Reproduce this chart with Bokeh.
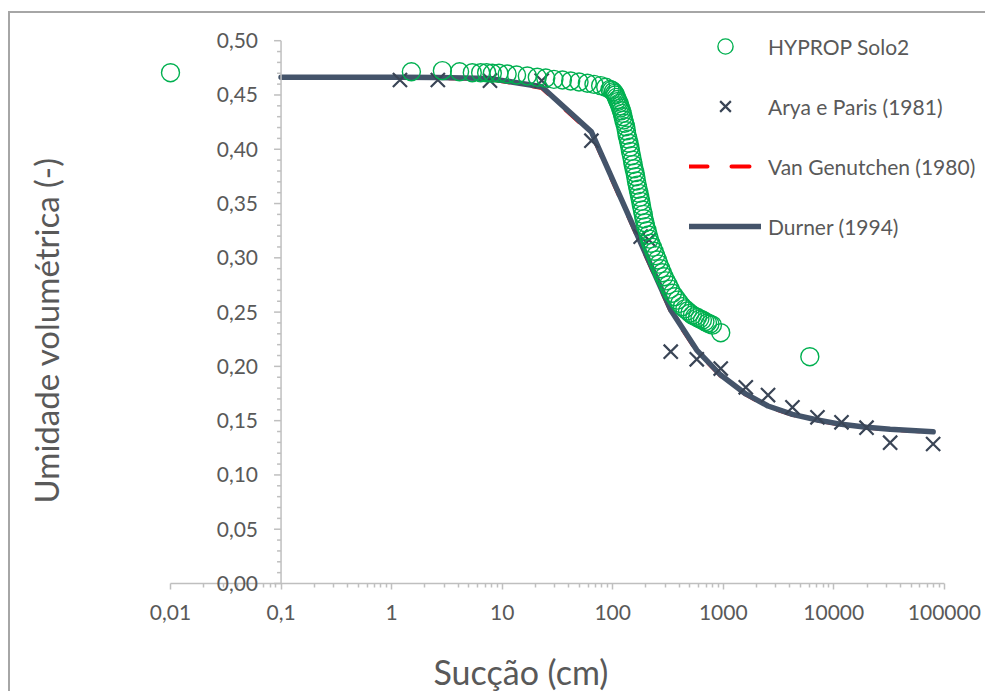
import math
from bokeh.plotting import figure
from bokeh.models import (FixedTicker, CustomJSTickFormatter, Legend, LegendItem)
from bokeh.core.properties import value
from bokeh.embed import file_html
from bokeh.resources import INLINE

# ---------------- data ----------------
hyprop_x = [0.01, 1.51, 2.88, 4.12, 5.37, 6.39, 7.24, 8.15, 9.36, 11.1, 13.5, 16.9, 20.8,
            24.8, 29.4, 35.1, 41.7, 49.6, 59.0, 67.7, 77.8, 86.5, 94.6, 98.0, 101.4, 104.0,
            106.0, 108.0, 110.0, 112.0, 114.0, 116.0, 118.0, 120.0, 122.0, 124.0, 126.0,
            128.5, 131.0, 133.0, 135.0, 138.0, 140.5, 143.0, 145.0, 148.0, 150.7, 153.0,
            156.0, 159.0, 161.5, 164.0, 167.0, 170.0, 173.0, 176.0, 179.0, 182.0, 185.6,
            189.0, 192.0, 196.0, 199.0, 205.0, 210.0, 215.0, 221.0, 229.0, 237.0, 245.0,
            253.8, 262.0, 272.0, 281.0, 291.0, 304.0, 318.0, 332.0, 347.0, 365.0, 385.0,
            405.0, 427.0, 450.0, 475.0, 500.0, 526.0, 555.0, 585.0, 615.0, 648.0, 683.0,
            720.0, 758.0, 798.0, 949.0, 6070.0]
hyprop_y = [0.4705, 0.4714, 0.4724, 0.4714, 0.4705, 0.4705, 0.4705, 0.4700, 0.4700, 0.4693,
            0.4684, 0.4675, 0.4663, 0.4656, 0.4644, 0.4638, 0.4629, 0.4620, 0.4608, 0.4598,
            0.4586, 0.4571, 0.4552, 0.4545, 0.4530, 0.4515, 0.4500, 0.4478, 0.4458, 0.4440,
            0.4423, 0.4400, 0.4380, 0.4355, 0.4331, 0.4300, 0.4270, 0.4240, 0.4208, 0.4170,
            0.4130, 0.4093, 0.4055, 0.4018, 0.3980, 0.3940, 0.3900, 0.3860, 0.3820, 0.3785,
            0.3747, 0.3708, 0.3670, 0.3632, 0.3594, 0.3557, 0.3520, 0.3480, 0.3440, 0.3400,
            0.3360, 0.3323, 0.3287, 0.3250, 0.3210, 0.3172, 0.3134, 0.3097, 0.3060, 0.3020,
            0.2980, 0.2942, 0.2900, 0.2863, 0.2826, 0.2788, 0.2750, 0.2712, 0.2673, 0.2642,
            0.2610, 0.2580, 0.2550, 0.2530, 0.2510, 0.2490, 0.2473, 0.2460, 0.2450, 0.2438,
            0.2427, 0.2413, 0.2400, 0.2390, 0.2380, 0.2310, 0.2089]

arya_x = [1.19, 2.62, 7.76, 22.8, 64.2, 179, 213, 335, 576, 949, 1599, 2542, 4227, 7118,
          11740, 19770, 32340, 79200]
arya_y = [0.4638, 0.4638, 0.4632, 0.4632, 0.4079, 0.3195, 0.3164, 0.2135, 0.2065, 0.1980,
          0.1807, 0.1736, 0.1623, 0.1531, 0.1485, 0.1435, 0.1297, 0.1285]

vg_x = [0.1, 1.19, 2.62, 7.76, 22.8, 64.2, 179, 335, 576, 949, 1599, 2542, 4227, 7118,
        11740, 19770, 32340, 79200]
vg_y = [0.4660, 0.4660, 0.4658, 0.4645, 0.4565, 0.4145, 0.3125, 0.2505, 0.2140, 0.1912,
        0.1740, 0.1630, 0.1553, 0.1502, 0.1462, 0.1436, 0.1417, 0.1395]

durner_x = [0.1, 1.19, 2.62, 7.76, 22.8, 64.2, 179, 335, 576, 949, 1599, 2542, 4227, 7118,
            11740, 19770, 32340, 79200]
durner_y = [0.4663, 0.4663, 0.4662, 0.4652, 0.4576, 0.4160, 0.3140, 0.2520, 0.2150, 0.1920,
            0.1746, 0.1635, 0.1558, 0.1506, 0.1466, 0.1439, 0.1420, 0.1398]

x_ticks = [0.01, 0.1, 1, 10, 100, 1000, 10000, 100000]
x_tick_labels = ["0,01", "0,1", "1", "10", "100", "1000", "10000", "100000"]
y_ticks = [0.00, 0.05, 0.10, 0.15, 0.20, 0.25, 0.30, 0.35, 0.40, 0.45, 0.50]
y_tick_labels = ["0,00", "0,05", "0,10", "0,15", "0,20", "0,25", "0,30", "0,35",
                 "0,40", "0,45", "0,50"]
y_axis_crosses_at = 0.1

series_names = ["HYPROP Solo2", "Arya e Paris (1981)", "Van Genutchen (1980)", "Durner (1994)"]
x_title = "Sucção (cm)"
y_title = "Umidade volumétrica (-)"

# ---------------- style ----------------
FONT = "Lato"
TEXT = "#595959"
AXIS = "#bfbfbf"
GREEN = "#00B050"
NAVY = "#44546A"
XCOL = "#3A4556"
RED = "#FF0000"

# frame is a little larger than the data area so that the legend fits inside it
p = figure(width=977, height=680, x_axis_type="log", x_range=(0.01, 10 ** 5.3),
           y_range=(0, 0.514), output_backend="svg", toolbar_location=None,
           min_border_left=160, min_border_right=10, min_border_top=12,
           min_border_bottom=110)
p.styles = {"margin-left": "8px", "margin-top": "11px",
            "border-left": "2px solid #a6a6a6", "border-top": "2px solid #a6a6a6"}
p.xgrid.grid_line_color = None
p.ygrid.grid_line_color = None
p.outline_line_color = None
p.yaxis.visible = False

# x axis (ticks + labels), its line is drawn from 0.01 to 100000 below
minor = [m * 10.0 ** e for e in range(-2, 5) for m in range(2, 10)]
xa = p.xaxis[0]
xa.ticker = FixedTicker(ticks=x_ticks, minor_ticks=minor)
xa.formatter = CustomJSTickFormatter(args=dict(labels=x_tick_labels),
                                     code="return labels[Math.round(Math.log10(tick)) + 2];")
xa.axis_line_color = None
xa.major_tick_line_color = AXIS
xa.major_tick_line_width = 1.5
xa.major_tick_out = 6
xa.major_tick_in = 0
xa.minor_tick_line_color = AXIS
xa.minor_tick_line_width = 1.5
xa.minor_tick_out = 4
xa.minor_tick_in = 0
xa.major_label_text_font = FONT
xa.major_label_text_font_size = "21px"
xa.major_label_text_color = TEXT
xa.major_label_standoff = 15

p.segment(x0=[x_ticks[0]], y0=[0], x1=[x_ticks[-1]], y1=[0], line_color=AXIS,
          line_width=1.5, level="overlay")

# manual y axis crossing at x = 0.1
tick_left = y_axis_crosses_at * 10 ** (-7 / 110.5)
minor_left = y_axis_crosses_at * 10 ** (-4 / 110.5)
y_minor = [i / 100 for i in range(51) if i % 5]
p.segment(x0=[y_axis_crosses_at], y0=[y_ticks[0]], x1=[y_axis_crosses_at], y1=[y_ticks[-1]],
          line_color=AXIS, line_width=1.5, level="overlay")
p.segment(x0=[tick_left] * len(y_ticks), y0=y_ticks, x1=[y_axis_crosses_at] * len(y_ticks),
          y1=y_ticks, line_color=AXIS, line_width=1.5, level="overlay")
p.segment(x0=[minor_left] * len(y_minor), y0=y_minor, x1=[y_axis_crosses_at] * len(y_minor),
          y1=y_minor, line_color=AXIS, line_width=1.5, level="overlay")
p.text(x=[y_axis_crosses_at] * len(y_ticks), y=y_ticks, text=y_tick_labels, x_offset=-23,
       text_align="right", text_baseline="middle", text_font=value(FONT),
       text_font_size="21px", text_color=TEXT, level="overlay")

# axis titles, anchored at the axes' origin (0.01, 0) and offset in pixels
p.text(x=[x_ticks[0]], y=[y_ticks[0]], text=[x_title], x_offset=263, y_offset=88,
       text_align="left", text_baseline="middle", text_font=value(FONT),
       text_font_size="34px", text_color=TEXT, level="overlay")
p.text(x=[x_ticks[0]], y=[y_ticks[0]], text=[y_title], x_offset=-125, y_offset=-80,
       angle=math.pi / 2, text_align="left", text_baseline="middle", text_font=value(FONT),
       text_font_size="33px", text_color=TEXT, level="overlay")

# series
r_vg = p.line(vg_x, vg_y, line_color=RED, line_width=4, line_dash="18 24", line_cap="round")
r_dur = p.line(durner_x, durner_y, line_color=NAVY, line_width=5.5, line_cap="round",
               line_join="round")
r_arya = p.scatter(arya_x, arya_y, marker="x", size=20, line_color=XCOL, line_width=2.2)
r_hyp = p.scatter(hyprop_x, hyprop_y, marker="circle", size=18, fill_color=None,
                  line_color=GREEN, line_width=1.4, level="overlay")

legend = Legend(items=[LegendItem(label=series_names[0], renderers=[r_hyp]),
                       LegendItem(label=series_names[1], renderers=[r_arya]),
                       LegendItem(label=series_names[2], renderers=[r_vg]),
                       LegendItem(label=series_names[3], renderers=[r_dur])],
                location=(519, 338), glyph_width=72, glyph_height=38, label_height=38,
                spacing=22, label_standoff=7, padding=0, margin=0,
                border_line_color=None, background_fill_alpha=0,
                label_text_font=FONT, label_text_font_size="21px", label_text_color=TEXT)
p.add_layout(legend, "center")

open("out.html", "w").write(file_html(p, INLINE))
